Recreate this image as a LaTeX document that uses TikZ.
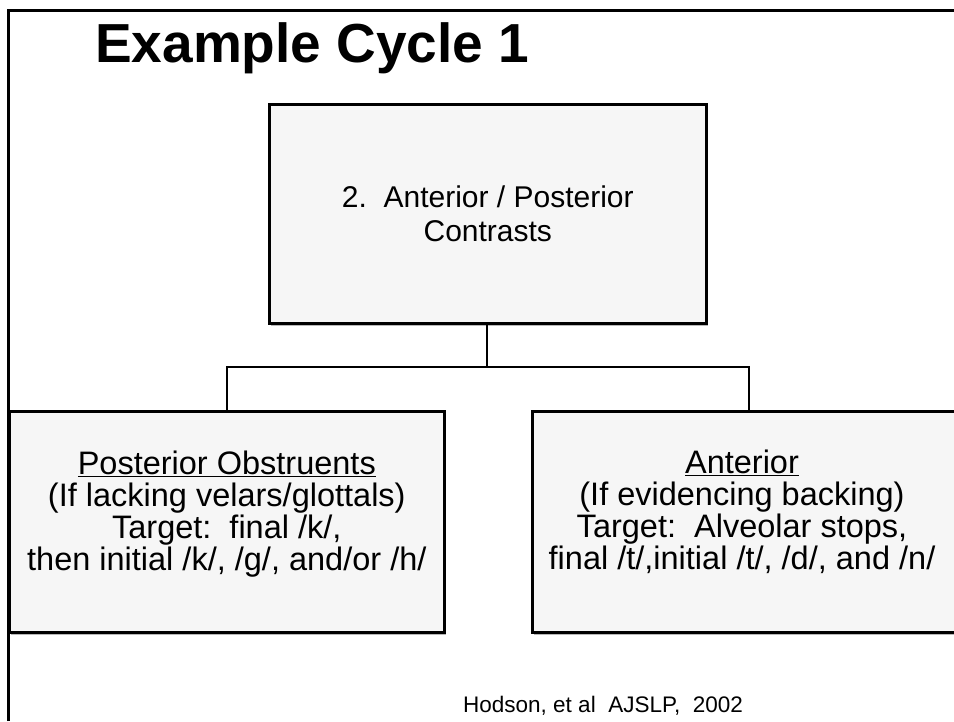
\documentclass[tikz,border=0pt]{standalone}
\usepackage{fontspec}
\setmainfont{Liberation Sans}
\usetikzlibrary{shadows}
\definecolor{boxfill}{RGB}{246,246,246}
\tikzset{
  panel/.style={draw=black, line width=2.6pt, fill=boxfill, inner sep=0pt,
    drop shadow={shadow xshift=1.5pt, shadow yshift=-2.5pt, fill=gray!70, opacity=0.8},
    anchor=north west},
  boxtext/.style={align=center, inner sep=0pt, font={\fontsize{32.5}{32}\selectfont}},
  link/.style={draw=black, line width=2pt},
  frameline/.style={draw=black, line width=3pt}
}
\begin{document}
\begin{tikzpicture}[x=1pt, y=-1pt]
  \useasboundingbox (0,0) rectangle (954,721);
  \clip (0,0) rectangle (954,721);
  % outer frame (left and top edges only)
  \draw[frameline] (8,721) -- (8,10) -- (960,10);
  % title
  \node[anchor=base west, inner sep=0pt, font={\fontsize{55}{55}\selectfont\bfseries}]
    (title) at (95,62) {Example Cycle 1};
  % boxes
  \node[panel, minimum width=437pt, minimum height=219pt] (top) at (268,103) {};
  \node[panel, minimum width=435pt, minimum height=221pt] (left) at (8,410) {};
  \node[panel, minimum width=480pt, minimum height=221pt] (right) at (531,410) {};
  % box texts
  \node[align=center, inner sep=0pt, font={\fontsize{30}{34}\selectfont}]
    (toptext) at (top.center) {2.\ \ Anterior / Posterior\\Contrasts};
  \node[boxtext] (lefttext) at ([yshift=8pt]left.center)
    {\underline{Posterior Obstruents}\\(If lacking velars/glottals)\\Target:\ \ final /k/,\\then initial /k/, /g/, and/or /h/};
  \node[boxtext] (righttext) at (742,512)
    {\underline{Anterior}\\(If evidencing backing)\\Target:\ \ Alveolar stops,\\final /t/,initial /t/, /d/, and /n/};
  % connectors
  \coordinate (junction) at (487,367);
  \coordinate (rightdrop) at (749,410);
  \draw[link] (top.south -| junction) -- (junction);
  \draw[link] (left.north) |- (junction);
  \draw[link] (rightdrop) |- (junction);
  % citation
  \node[anchor=base west, inner sep=0pt, font={\fontsize{22.5}{22.5}\selectfont}]
    (cite) at (463,712) {Hodson, et al\ \ AJSLP,\ \ 2002};
\end{tikzpicture}
\end{document}
